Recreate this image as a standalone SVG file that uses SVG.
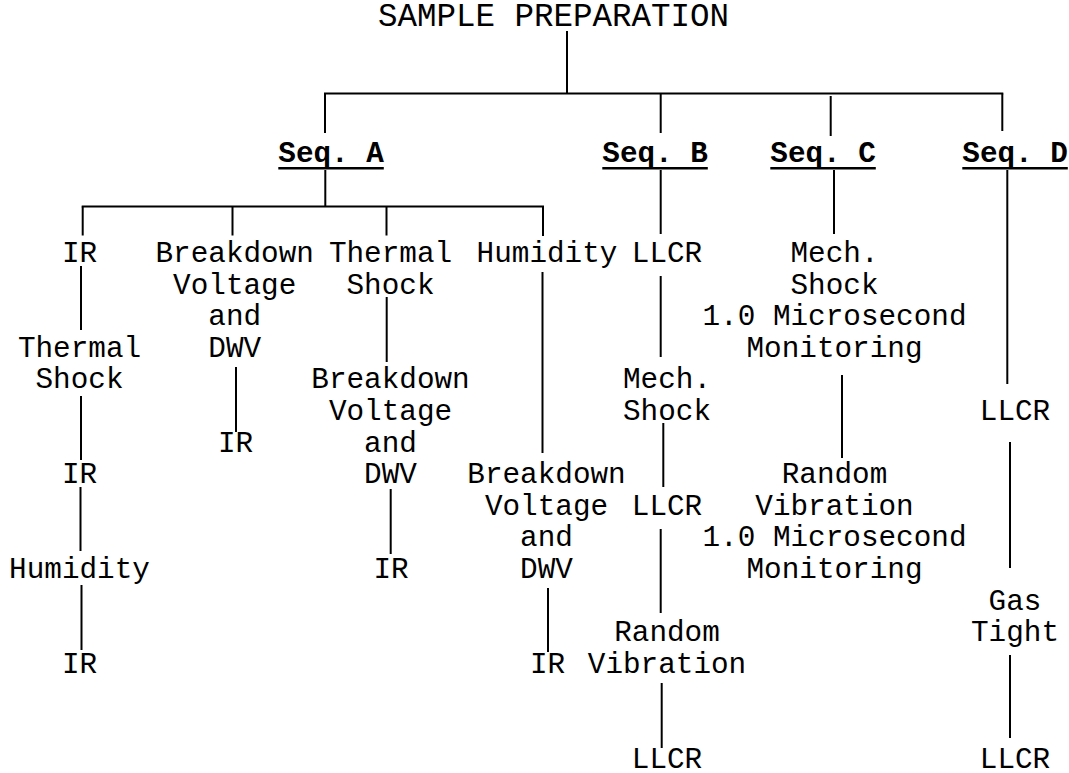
<svg xmlns="http://www.w3.org/2000/svg" width="1069" height="773" viewBox="0 0 1069 773">
<style>
text{font-family:"Liberation Mono","Courier New",monospace;font-size:29.33px;fill:#000;text-anchor:middle}
.h{font-size:32.5px;text-anchor:start}
.s{font-weight:bold;text-anchor:start}
.c line{stroke:#000;stroke-width:2}
.u{stroke:#000;stroke-width:2.6}
</style>
<rect width="1069" height="773" fill="#fff"/>
<g class="c" id="connectors">
<line x1="567" y1="31" x2="567" y2="93.5"/>
<line x1="324" y1="93.5" x2="1003.3" y2="93.5"/>
<line x1="325" y1="93.5" x2="325" y2="133"/>
<line x1="660.7" y1="93.5" x2="660.7" y2="133"/>
<line x1="830.7" y1="96" x2="830.7" y2="136"/>
<line x1="1002.3" y1="93.5" x2="1002.3" y2="131"/>
<line x1="325.3" y1="170" x2="325.3" y2="206.5"/>
<line x1="81.7" y1="206.5" x2="544" y2="206.5"/>
<line x1="82.7" y1="206.5" x2="82.7" y2="235.5"/>
<line x1="232.5" y1="206.5" x2="232.5" y2="235.5"/>
<line x1="386.5" y1="206.5" x2="386.5" y2="235.5"/>
<line x1="543" y1="206.5" x2="543" y2="236"/>
<line x1="81" y1="266" x2="81" y2="330"/>
<line x1="81" y1="396" x2="81" y2="460"/>
<line x1="80.5" y1="487" x2="80.5" y2="551"/>
<line x1="81.5" y1="585" x2="81.5" y2="650"/>
<line x1="236" y1="367" x2="236" y2="432"/>
<line x1="386.7" y1="297" x2="386.7" y2="362"/>
<line x1="390.7" y1="489" x2="390.7" y2="554"/>
<line x1="542.5" y1="272" x2="542.5" y2="453"/>
<line x1="548" y1="588" x2="548" y2="652"/>
<line x1="660.7" y1="170" x2="660.7" y2="234"/>
<line x1="660.7" y1="276" x2="660.7" y2="357"/>
<line x1="663.3" y1="423" x2="663.3" y2="487"/>
<line x1="660.7" y1="529" x2="660.7" y2="613"/>
<line x1="661.7" y1="683" x2="661.7" y2="748"/>
<line x1="834" y1="170" x2="834" y2="234"/>
<line x1="842" y1="375" x2="842" y2="458"/>
<line x1="1007.3" y1="170" x2="1007.3" y2="384"/>
<line x1="1010" y1="442" x2="1010" y2="568"/>
<line x1="1010" y1="655" x2="1010" y2="738"/>
</g>
<g id="n-root"><text class="h" x="378" y="26">SAMPLE PREPARATION</text></g>
<g id="n-seqA"><text class="s" x="278.3" y="161.7">Seq. A</text><line class="u" x1="278.3" y1="168.3" x2="383.8" y2="168.3"/></g>
<g id="n-seqB"><text class="s" x="602.3" y="161.7">Seq. B</text><line class="u" x1="602.3" y1="168.3" x2="707.8" y2="168.3"/></g>
<g id="n-seqC"><text class="s" x="770.3" y="161.7">Seq. C</text><line class="u" x1="770.3" y1="168.3" x2="875.8" y2="168.3"/></g>
<g id="n-seqD"><text class="s" x="962.3" y="161.7">Seq. D</text><line class="u" x1="962.3" y1="168.3" x2="1067.8" y2="168.3"/></g>
<g id="n-a1-ir"><text x="79.5" y="262">IR</text></g>
<g id="n-a1-ts"><text x="79.5" y="356.8">Thermal<tspan x="79.5" y="388.4">Shock</tspan></text></g>
<g id="n-a1-ir2"><text x="79.5" y="483.2">IR</text></g>
<g id="n-a1-hum"><text x="79.5" y="578">Humidity</text></g>
<g id="n-a1-ir3"><text x="79.5" y="672.8">IR</text></g>
<g id="n-a2-bd"><text x="234.7" y="262">Breakdown<tspan x="234.7" y="293.6">Voltage</tspan><tspan x="234.7" y="325.2">and</tspan><tspan x="234.7" y="356.8">DWV</tspan></text></g>
<g id="n-a2-ir"><text x="235.5" y="451.6">IR</text></g>
<g id="n-a3-ts"><text x="390.5" y="262">Thermal<tspan x="390.5" y="293.6">Shock</tspan></text></g>
<g id="n-a3-bd"><text x="390.5" y="388.4">Breakdown<tspan x="390.5" y="420">Voltage</tspan><tspan x="390.5" y="451.6">and</tspan><tspan x="390.5" y="483.2">DWV</tspan></text></g>
<g id="n-a3-ir"><text x="391" y="578">IR</text></g>
<g id="n-a4-hum"><text x="547" y="262">Humidity</text></g>
<g id="n-a4-bd"><text x="546.5" y="483.2">Breakdown<tspan x="546.5" y="514.8">Voltage</tspan><tspan x="546.5" y="546.4">and</tspan><tspan x="546.5" y="578">DWV</tspan></text></g>
<g id="n-a4-ir"><text x="547.5" y="672.8">IR</text></g>
<g id="n-b-llcr1"><text x="667" y="262">LLCR</text></g>
<g id="n-b-ms"><text x="667" y="388.4">Mech.<tspan x="667" y="420">Shock</tspan></text></g>
<g id="n-b-llcr2"><text x="667" y="514.8">LLCR</text></g>
<g id="n-b-rv"><text x="667" y="641.2">Random<tspan x="667" y="672.8">Vibration</tspan></text></g>
<g id="n-b-llcr3"><text x="667" y="767.6">LLCR</text></g>
<g id="n-c-ms"><text x="834.5" y="262">Mech.<tspan x="834.5" y="293.6">Shock</tspan><tspan x="834.5" y="325.2">1.0 Microsecond</tspan><tspan x="834.5" y="356.8">Monitoring</tspan></text></g>
<g id="n-c-rv"><text x="834.5" y="483.2">Random<tspan x="834.5" y="514.8">Vibration</tspan><tspan x="834.5" y="546.4">1.0 Microsecond</tspan><tspan x="834.5" y="578">Monitoring</tspan></text></g>
<g id="n-d-llcr1"><text x="1015" y="420">LLCR</text></g>
<g id="n-d-gt"><text x="1015" y="609.6">Gas<tspan x="1015" y="641.2">Tight</tspan></text></g>
<g id="n-d-llcr2"><text x="1015" y="767.6">LLCR</text></g>
</svg>
